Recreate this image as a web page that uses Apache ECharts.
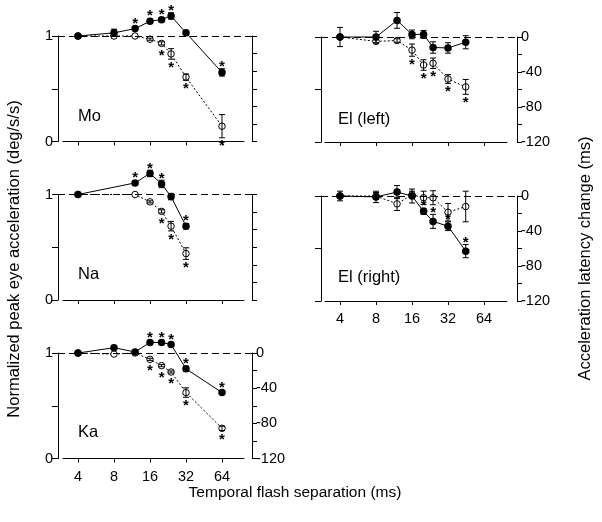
<!DOCTYPE html>
<html><head><meta charset="utf-8">
<script src="https://cdn.jsdelivr.net/npm/echarts@6/dist/echarts.min.js"></script>
<style>html,body{margin:0;padding:0;background:#fff}#c{width:602px;height:522px}</style>
</head><body><div id="c"></div>
<script>
// ---------- data ----------
const xTicks = [4, 8, 16, 32, 64];
const leftTicks = [0, 0.5, 1];
const rightTicks = [0, -40, -80, -120];

const xMo = [4, 8, 12, 16, 20, 24, 32, 64];
const moFilled = [1.0, 1.03, 1.07, 1.14, 1.155, 1.19, 1.03, 0.655];
const moFilledErr = [0, 0.035, 0.02, 0.02, 0.02, 0.03, 0.015, 0.035];
const moFilledStar = [0, 0, 1, 1, 1, 1, 0, 1];
const moOpen = [1.0, 1.0, 1.0, 0.97, 0.93, 0.83, 0.61, 0.145];
const moOpenErr = [0, 0, 0, 0.01, 0.015, 0.05, 0.03, 0.11];
const moOpenStar = [0, 0, 0, 0, 1, 1, 1, 1];

const xNa = [4, 12, 16, 20, 24, 32];
const naFilled = [1.0, 1.11, 1.2, 1.10, 0.98, 0.70];
const naFilledErr = [0, 0.02, 0.03, 0.035, 0.03, 0.025];
const naFilledStar = [0, 1, 1, 1, 0, 1];
const naOpen = [1.0, 1.0, 0.93, 0.84, 0.70, 0.44];
const naOpenErr = [0, 0, 0.01, 0.015, 0.045, 0.055];
const naOpenStar = [0, 0, 0, 1, 1, 1];

const xKa = [4, 8, 12, 16, 20, 24, 32, 64];
const kaFilled = [1.0, 1.05, 1.01, 1.10, 1.10, 1.08, 0.85, 0.625];
const kaFilledErr = [0, 0.01, 0.015, 0.01, 0.015, 0.015, 0.025, 0.01];
const kaFilledStar = [0, 0, 0, 1, 1, 1, 1, 1];
const kaOpen = [1.0, 0.99, 1.0, 0.94, 0.88, 0.82, 0.625, 0.286];
const kaOpenErr = [0, 0, 0, 0.01, 0.01, 0.01, 0.045, 0.02];
const kaOpenStar = [0, 0, 0, 1, 1, 1, 1, 1];

const xEl = [4, 8, 12, 16, 20, 24, 32, 45];
const elLFilled = [0, 0, 19, 3, 3, -12, -12.5, -6];
const elLFilledErr = [11, 6.5, 9, 5, 4.5, 6.5, 6, 7.5];
const elLFilledStar = [0, 0, 0, 0, 0, 0, 0, 0];
const elLOpen = [0, -5, -4, -15, -32, -30, -48, -57];
const elLOpenErr = [0, 2, 2, 7, 6, 6, 5, 8.5];
const elLOpenStar = [0, 0, 0, 1, 1, 1, 1, 1];

const elRFilled = [0, -1, 4.5, 0, -17.5, -29, -34.5, -63];
const elRFilledErr = [5.5, 6.5, 7.5, 8, 3.5, 8, 5, 7.5];
const elRFilledStar = [0, 0, 0, 0, 1, 1, 1, 1];
const elROpen = [0, 0, -9, 1.5, -2, -2, -18.5, -12];
const elROpenErr = [0, 4, 7.5, 4, 7.5, 8, 10, 17.5];
const elROpenStar = [0, 0, 0, 0, 0, 0, 0, 0];

const panelNames = ['Mo', 'Na', 'Ka', 'El (left)', 'El (right)'];
const titleY = 'Normalized peak eye acceleration (deg/s/s)';
const titleY2 = 'Acceleration latency change (ms)';
const titleX = 'Temporal flash separation (ms)';

// ---------- layout ----------
const FONT = '"Liberation Sans", Arial, Helvetica, sans-serif';
const panels = [
  {x: xMo, f: moFilled, fe: moFilledErr, fs: moFilledStar, o: moOpen, oe: moOpenErr, os: moOpenStar,
   left: 58, width: 194, top: 36, height: 105.5, bl: 63, bw: 181, xl: false, ll: true, rl: false, ms: false, lx: 78, ly: 116},
  {x: xNa, f: naFilled, fe: naFilledErr, fs: naFilledStar, o: naOpen, oe: naOpenErr, os: naOpenStar,
   left: 58, width: 194, top: 194.5, height: 105.5, bl: 63, bw: 181, xl: false, ll: true, rl: false, ms: false, lx: 78, ly: 274},
  {x: xKa, f: kaFilled, fe: kaFilledErr, fs: kaFilledStar, o: kaOpen, oe: kaOpenErr, os: kaOpenStar,
   left: 58, width: 194, top: 353, height: 105.5, bl: 63, bw: 181, xl: true, ll: true, rl: true, ms: false, lx: 78, ly: 432},
  {x: xEl, f: elLFilled, fe: elLFilledErr, fs: elLFilledStar, o: elLOpen, oe: elLOpenErr, os: elLOpenStar,
   left: 321, width: 196, top: 37, height: 105, bl: 325, bw: 182, xl: false, ll: false, rl: true, ms: true, lx: 338, ly: 119},
  {x: xEl, f: elRFilled, fe: elRFilledErr, fs: elRFilledStar, o: elROpen, oe: elROpenErr, os: elROpenStar,
   left: 321, width: 196, top: 196, height: 105, bl: 325, bw: 182, xl: true, ll: false, rl: true, ms: true, lx: 338, ly: 277}
];
// pixel anchors of the log x axes: tick "4" at 20/19 px from grid edge, 36 px per octave
function logMin(px) { return 4 / Math.pow(2, px / 36); }
function logMax(px) { return 64 * Math.pow(2, px / 36); }

function errRenderer(dir) {
  return function (params, api) {
    const x = api.value(0), y = api.value(1), e = api.value(2), s = api.value(3);
    const p = api.coord([x, y]);
    const ch = [];
    let top = p[1] - 3.5, bot = p[1] + 3.5;
    if (e > 0) {
      const a = api.coord([x, y + e]), b = api.coord([x, y - e]);
      top = Math.min(top, a[1]); bot = Math.max(bot, b[1]);
      const st = {stroke: '#000', lineWidth: 1};
      ch.push({type: 'line', shape: {x1: p[0], y1: a[1], x2: p[0], y2: b[1]}, style: st});
      ch.push({type: 'line', shape: {x1: p[0] - 3, y1: a[1], x2: p[0] + 3, y2: a[1]}, style: st});
      ch.push({type: 'line', shape: {x1: p[0] - 3, y1: b[1], x2: p[0] + 3, y2: b[1]}, style: st});
    }
    if (s) {
      const sy = dir < 0 ? top - 5 : bot + 5;
      ch.push({type: 'text', x: p[0], y: sy + 3.5,
        style: {text: '*', fill: '#000', font: 'bold 15px ' + FONT, align: 'center', verticalAlign: 'middle'}});
    }
    return {type: 'group', children: ch};
  };
}

const grid = [], xAxis = [], yAxis = [], series = [], graphic = [];
const axisCommon = {
  axisLine: {show: true, lineStyle: {color: '#000', width: 1}},
  axisTick: {show: true, length: 5, lineStyle: {color: '#000', width: 1}},
  splitLine: {show: false}
};
panels.forEach((P, i) => {
  const gA = grid.length;
  grid.push({left: P.left, width: P.width, top: P.top, height: P.height});
  grid.push({left: P.bl, width: P.bw, top: P.top, height: P.height});
  const padL = P.left === 58 ? 20 : 19;
  const padR = P.width - padL - 144;
  xAxis.push({type: 'log', logBase: 2, gridIndex: gA, min: logMin(padL), max: logMax(padR), show: false});
  xAxis.push(Object.assign({}, axisCommon, {
    type: 'log', logBase: 2, gridIndex: gA + 1, min: logMin(15), max: logMax(P.left === 58 ? 22 : 23),
    position: 'bottom', offset: 5.5,
    axisTick: {show: true, length: 4, customValues: xTicks, lineStyle: {color: '#000'}},
    axisLabel: {show: P.xl, customValues: xTicks, color: '#000', fontSize: 14.5, fontFamily: FONT, margin: 5},
    minorTick: {show: false}
  }));
  const yL = yAxis.length;
  yAxis.push(Object.assign({}, axisCommon, {
    type: 'value', gridIndex: gA, position: 'left', min: 0, max: 1, interval: 0.5,
    axisTick: {show: true, length: 6, lineStyle: {color: '#000'}},
    axisLabel: {show: P.ll, color: '#000', fontSize: 14.5, fontFamily: FONT, margin: 5,
      formatter: v => (leftTicks.indexOf(v) >= 0 && v !== 0.5) ? String(v) : ''}
  }));
  yAxis.push(Object.assign({}, axisCommon, {
    type: 'value', gridIndex: gA, position: 'right', min: -120, max: 0, interval: 20,
    axisTick: {show: true, length: 5, lineStyle: {color: '#000'}},
    axisLabel: {show: P.rl, color: '#000', fontSize: 14.5, fontFamily: FONT, margin: 4,
      formatter: v => rightTicks.indexOf(v) >= 0 ? String(v) : ''}
  }));
  yAxis.push({type: 'value', gridIndex: gA + 1, min: 0, max: 1, show: false});
  const yIdx = P.ms ? yL + 1 : yL;
  const ref = P.ms ? 0 : 1;
  const xi = xAxis.length - 2;
  const openData = P.x.map((x, k) => [x, P.o[k]]);
  const filledData = P.x.map((x, k) => [x, P.f[k]]);
  series.push({
    type: 'line', xAxisIndex: xi, yAxisIndex: yIdx, data: openData, clip: false, z: 2,
    symbol: 'circle', symbolSize: 6.5, showSymbol: true, animation: false,
    lineStyle: {color: '#000', width: 1, type: [2, 2]},
    itemStyle: {color: '#fff', borderColor: '#000', borderWidth: 1},
    markLine: {silent: true, symbol: 'none', label: {show: false}, animation: false,
      lineStyle: {color: '#000', width: 1.2, type: [7, 4]}, data: [{yAxis: ref}]}
  });
  series.push({
    type: 'custom', xAxisIndex: xi, yAxisIndex: yIdx, clip: false, z: 3, animation: false,
    data: P.x.map((x, k) => [x, P.o[k], P.oe[k], P.os[k]]), renderItem: errRenderer(1)
  });
  series.push({
    type: 'custom', xAxisIndex: xi, yAxisIndex: yIdx, clip: false, z: 3, animation: false,
    data: P.x.map((x, k) => [x, P.f[k], P.fe[k], P.fs[k]]), renderItem: errRenderer(-1)
  });
  series.push({
    type: 'line', xAxisIndex: xi, yAxisIndex: yIdx, data: filledData, clip: false, z: 4,
    symbol: 'circle', symbolSize: 7.5, animation: false,
    lineStyle: {color: '#000', width: 1},
    itemStyle: {color: '#000', borderColor: '#000', borderWidth: 0}
  });
  graphic.push({type: 'text', x: P.lx, y: P.ly,
    style: {text: panelNames[i], font: '16.5px ' + FONT, fill: '#000', align: 'left', verticalAlign: 'middle'}});
});
graphic.push({type: 'text', x: 14, y: 259, rotation: Math.PI / 2,
  style: {text: titleY, font: '16.5px ' + FONT, fill: '#000', align: 'center', verticalAlign: 'middle'}});
graphic.push({type: 'text', x: 585, y: 258.5, rotation: Math.PI / 2,
  style: {text: titleY2, font: '16.5px ' + FONT, fill: '#000', align: 'center', verticalAlign: 'middle'}});
graphic.push({type: 'text', x: 295, y: 493,
  style: {text: titleX, font: '15.5px ' + FONT, fill: '#000', align: 'center', verticalAlign: 'middle'}});

const chart = echarts.init(document.getElementById('c'), null, {renderer: 'canvas'});
chart.setOption({backgroundColor: '#fff', animation: false, grid, xAxis, yAxis, series, graphic});
</script></body></html>
